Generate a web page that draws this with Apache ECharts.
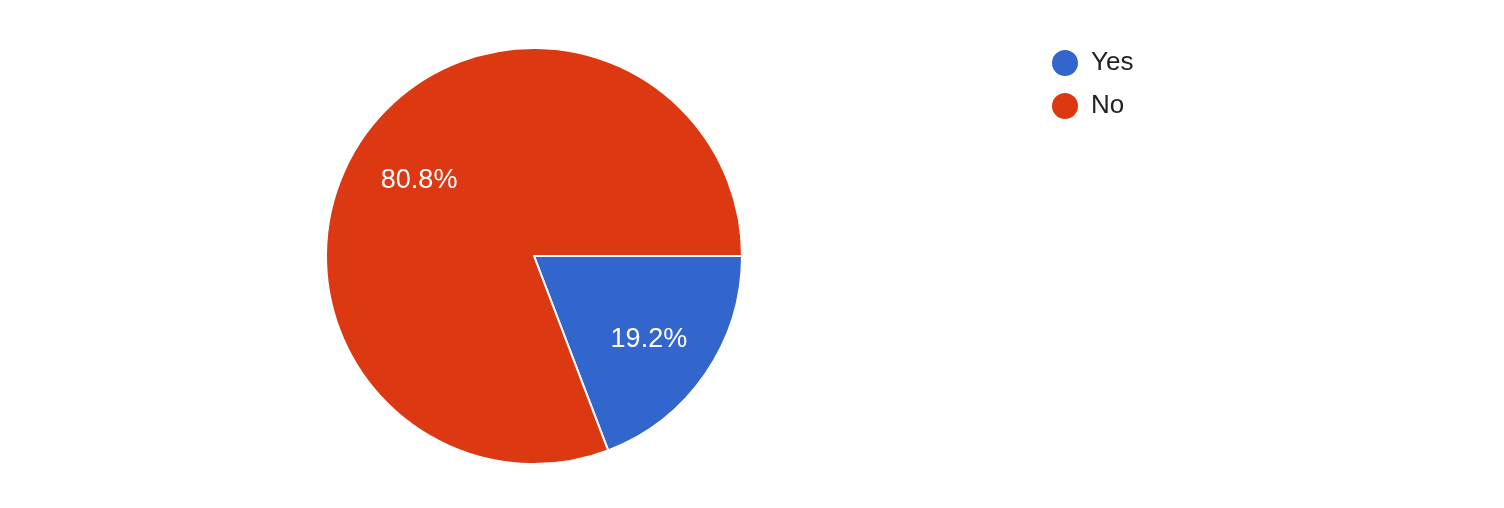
<!DOCTYPE html>
<html>
<head>
<meta charset="utf-8">
<script src="https://cdn.jsdelivr.net/npm/echarts@6/dist/echarts.min.js"></script>
<style>html,body{margin:0;padding:0;background:#fff;}#c{width:1504px;height:508px;}</style>
</head>
<body>
<div id="c"></div>
<script>
var categories = ['Yes', 'No'];
var values = [19.2, 80.8];
var colors = ['#3366cc', '#dc3912'];

var chart = echarts.init(document.getElementById('c'));
var mainData = categories.map(function (n, i) {
  return { name: n, value: values[i], itemStyle: { color: colors[i] } };
});
var labelData = categories.map(function (n, i) {
  return { name: n, value: values[i] };
});
chart.setOption({
  animation: false,
  legend: {
    orient: 'vertical',
    left: 1050,
    top: 48,
    padding: 0,
    icon: 'circle',
    itemWidth: 28,
    itemHeight: 28,
    itemGap: 13,
    data: categories.map(function (n, i) { return { name: n, itemStyle: { color: colors[i] } }; }),
    textStyle: { fontSize: 26, lineHeight: 28, color: '#222222', fontFamily: '"Liberation Sans", Arial, sans-serif', padding: [0, 0, 0, 7] }
  },
  series: [
    {
      type: 'pie',
      center: [534, 256],
      radius: [0, 208],
      startAngle: 0,
      clockwise: true,
      data: mainData,
      label: { show: false },
      labelLine: { show: false },
      itemStyle: { borderColor: '#ffffff', borderWidth: 2 },
      emphasis: { scale: false }
    },
    {
      type: 'pie',
      center: [534, 256],
      radius: [0, 273],
      startAngle: 0,
      clockwise: true,
      silent: true,
      data: labelData,
      itemStyle: { color: 'rgba(0,0,0,0)', borderWidth: 0 },
      label: {
        show: true,
        position: 'inside',
        offset: [0, 4],
        formatter: function (p) { return p.value.toFixed(1) + '%'; },
        color: '#ffffff',
        fontSize: 27,
        fontFamily: '"Liberation Sans", Arial, sans-serif'
      },
      labelLine: { show: false },
      emphasis: { disabled: true }
    }
  ]
});
</script>
</body>
</html>
